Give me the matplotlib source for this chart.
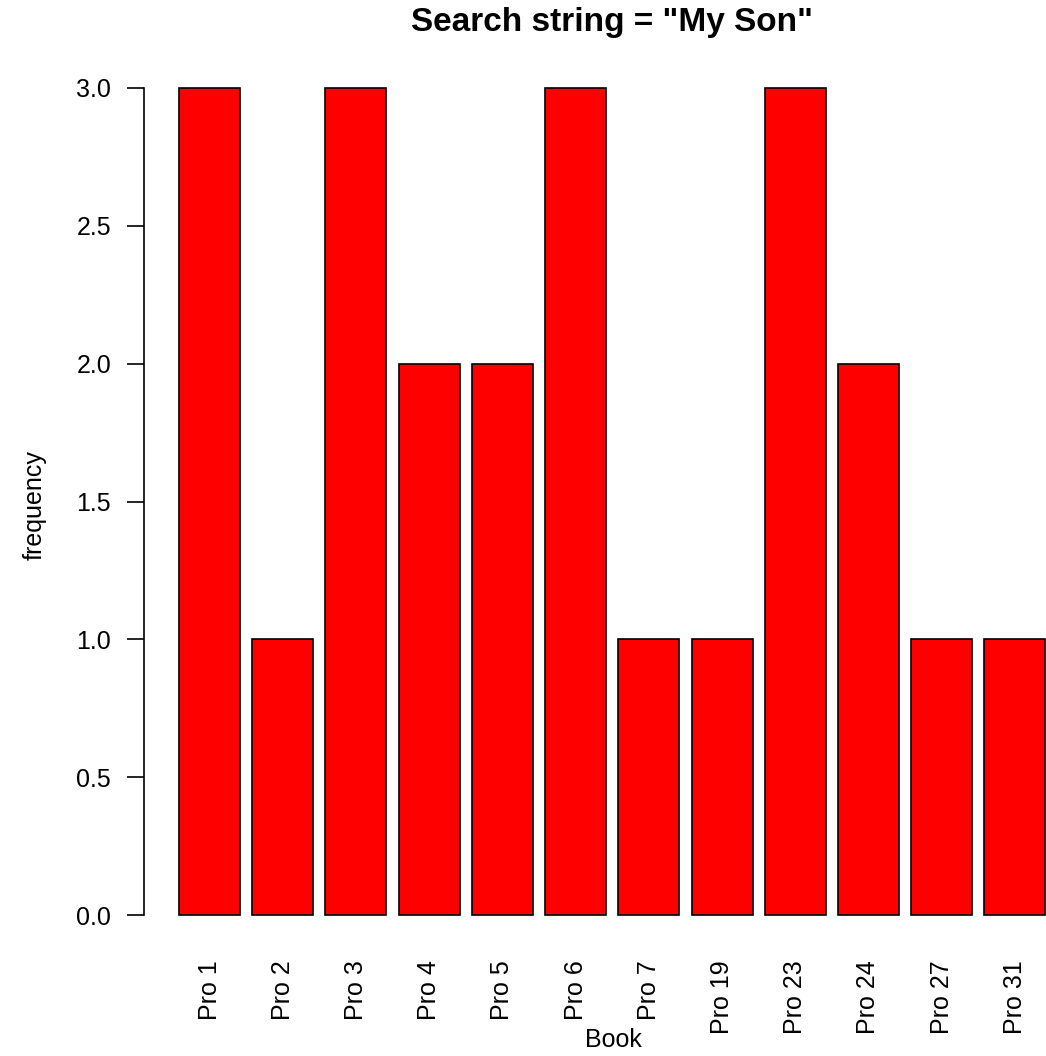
import numpy as np
import matplotlib
matplotlib.use("Agg")
import matplotlib.pyplot as plt

plt.rcParams['font.family'] = ['Liberation Sans', 'DejaVu Sans']

# data
books = ["Pro 1", "Pro 2", "Pro 3", "Pro 4", "Pro 5", "Pro 6",
         "Pro 7", "Pro 19", "Pro 23", "Pro 24", "Pro 27", "Pro 31"]
freq = [3, 1, 3, 2, 2, 3, 1, 1, 3, 2, 1, 1]
yticks = [0.0, 0.5, 1.0, 1.5, 2.0, 2.5, 3.0]

W, H = 1046, 1056
fig = plt.figure(figsize=(W / 100, H / 100), dpi=100)

# plot region like R's barplot (width 1, space 0.2), runs past right edge
left_px, right_px = 144.4, 1080.0
top_px, bot_px = 54.9, 948.1
ax = fig.add_axes([left_px / W, 1 - bot_px / H,
                   (right_px - left_px) / W, (bot_px - top_px) / H])

x = 0.7 + 1.2 * np.arange(len(books))
ax.bar(x, freq, width=1.0, color="#ff0000", edgecolor="black", linewidth=1.2)

ax.set_xlim(-0.368, 14.968)
ax.set_ylim(-0.12, 3.12)

for s in ["top", "right", "bottom"]:
    ax.spines[s].set_visible(False)
ax.spines["left"].set_bounds(0, 3)
ax.spines["left"].set_linewidth(1.2)

ax.set_yticks(yticks)
ax.set_yticklabels([f"{v:.1f}" for v in yticks])
ax.tick_params(axis="y", length=12, width=1.2, pad=12, labelsize=18, colors="black")

ax.set_xticks(x)
ax.set_xticklabels(books, rotation=90, fontsize=18)
ax.tick_params(axis="x", length=0, pad=9)

fig.text(612 / W, 1 - 22 / H, 'Search string = "My Son"', ha="center", va="center",
         fontsize=24, fontweight="bold")
fig.text(613 / W, 1 - 1040 / H, "Book", ha="center", va="center", fontsize=18)
fig.text(35 / W, 1 - 505 / H, "frequency", ha="center", va="center",
         fontsize=18, rotation=90)

fig.savefig("out.png", dpi=100)
